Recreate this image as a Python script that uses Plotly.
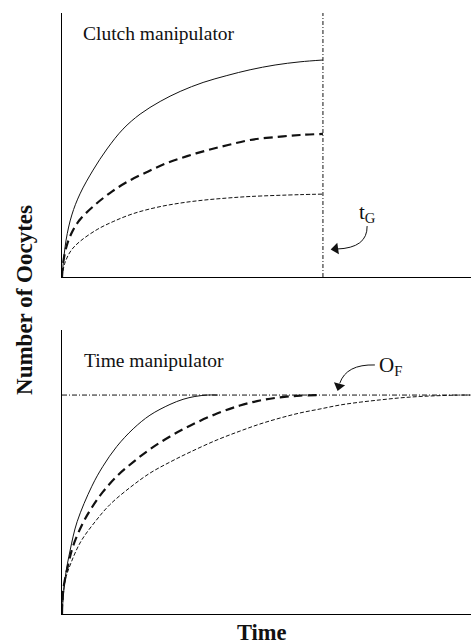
import plotly.graph_objects as go

# ---------------- data ----------------
# Top panel: Clutch manipulator (time axis 0-10, oocytes 0-10)
clutch_solid_t = [0, 0.10, 0.24, 0.44, 0.76, 1.10, 1.49, 1.91, 2.40, 2.89, 3.45, 4.03, 4.60, 5.21, 5.82, 6.38]
clutch_solid_n = [0, 1.40, 2.35, 3.15, 4.05, 4.85, 5.60, 6.17, 6.65, 7.03, 7.37, 7.63, 7.85, 8.03, 8.15, 8.22]

clutch_bold_t = [0, 0.03, 0.10, 0.22, 0.42, 0.76, 1.17, 1.59, 2.08, 2.57, 3.06, 3.55, 4.06, 4.60, 5.21, 5.82, 6.38]
clutch_bold_n = [0, 0.55, 1.10, 1.62, 2.14, 2.67, 3.18, 3.60, 3.98, 4.32, 4.58, 4.80, 5.00, 5.19, 5.30, 5.38, 5.42]

clutch_thin_t = [0, 0.07, 0.22, 0.44, 0.86, 1.25, 1.74, 2.32, 2.89, 3.45, 4.03, 4.60, 5.82, 6.38]
clutch_thin_n = [0, 0.53, 1.00, 1.35, 1.80, 2.10, 2.40, 2.64, 2.80, 2.91, 2.99, 3.05, 3.12, 3.14]

t_G = 6.38          # clutch-manipulator stopping time
top_n_max = 10

# Bottom panel: Time manipulator
time_solid_t = [0, 0.08, 0.20, 0.37, 0.73, 1.00, 1.34, 1.74, 2.15, 2.64, 2.96, 3.25, 3.55, 3.81]
time_solid_n = [0, 1.30, 2.25, 3.25, 4.50, 5.20, 5.90, 6.52, 7.00, 7.38, 7.56, 7.66, 7.71, 7.71]

time_bold_t = [0, 0.03, 0.15, 0.27, 0.51, 0.73, 1.00, 1.34, 1.74, 2.15, 2.64, 3.13, 3.79, 4.35, 4.84, 5.33, 5.82, 6.26]
time_bold_n = [0, 0.85, 1.73, 2.39, 3.20, 3.75, 4.30, 4.85, 5.35, 5.80, 6.25, 6.63, 7.06, 7.34, 7.52, 7.63, 7.69, 7.71]

time_thin_t = [0, 0.07, 0.22, 0.46, 0.81, 1.17, 1.66, 2.15, 2.64, 3.13, 3.79, 4.35, 4.84, 5.33, 5.82, 6.31, 6.80, 7.29, 7.78, 8.26, 8.75, 9.24, 9.73, 10]
time_thin_n = [0, 1.13, 1.80, 2.55, 3.25, 3.85, 4.45, 4.96, 5.35, 5.70, 6.13, 6.44, 6.69, 6.90, 7.08, 7.22, 7.36, 7.46, 7.54, 7.61, 7.66, 7.69, 7.71, 7.71]

O_F = 7.71          # final oocyte number
t_range = [0, 10]
n_range = [0, 10]

# ---------------- styles ----------------
SERIF = "Liberation Serif, Times New Roman, serif"
INK = "#111111"

fig = go.Figure()

def add(t, n, xa, ya, width, dash):
    fig.add_trace(go.Scatter(
        x=t, y=n, xaxis=xa, yaxis=ya, mode="lines",
        line=dict(color=INK, width=width, dash=dash, shape="spline", smoothing=1.0),
        showlegend=False, hoverinfo="skip"))

# top panel
add(clutch_solid_t, clutch_solid_n, "x", "y", 1.0, "solid")
add(clutch_bold_t, clutch_bold_n, "x", "y", 2.2, "9px,5px")
add(clutch_thin_t, clutch_thin_n, "x", "y", 1.0, "4px,2px")
fig.add_trace(go.Scatter(x=[t_G, t_G], y=[0, top_n_max], xaxis="x", yaxis="y", mode="lines",
                         line=dict(color=INK, width=1.0, dash="4px,2px,1px,2px"),
                         showlegend=False, hoverinfo="skip"))

# bottom panel
fig.add_trace(go.Scatter(x=t_range, y=[O_F, O_F], xaxis="x2", yaxis="y2", mode="lines",
                         line=dict(color=INK, width=1.0, dash="5px,2px,1px,2px"),
                         showlegend=False, hoverinfo="skip"))
add(time_thin_t, time_thin_n, "x2", "y2", 1.0, "4px,2px")
add(time_bold_t, time_bold_n, "x2", "y2", 2.2, "9px,5px")
add(time_solid_t, time_solid_n, "x2", "y2", 1.0, "solid")

# arrow heads for the curved label arrows
fig.add_trace(go.Scatter(x=[6.69], y=[1.07], xaxis="x", yaxis="y", mode="markers",
                         marker=dict(symbol="triangle-left", size=10, color=INK, angle=-8),
                         showlegend=False, hoverinfo="skip"))
fig.add_trace(go.Scatter(x=[6.77], y=[8.02], xaxis="x2", yaxis="y2", mode="markers",
                         marker=dict(symbol="triangle-down", size=10, color=INK, angle=15),
                         showlegend=False, hoverinfo="skip"))

axis_common = dict(showline=True, linecolor="#000000", linewidth=1.4, showgrid=False,
                   zeroline=False, showticklabels=False, ticks="", mirror=False, fixedrange=True)

fig.update_layout(
    width=471, height=644,
    margin=dict(l=62, r=0, t=13, b=30),
    paper_bgcolor="white", plot_bgcolor="white",
    xaxis=dict(domain=[0, 1], anchor="y", range=t_range, **axis_common),
    yaxis=dict(domain=[0.5607, 1], anchor="x", range=n_range, **axis_common),
    xaxis2=dict(domain=[0, 1], anchor="y2", range=t_range, **axis_common),
    yaxis2=dict(domain=[0, 0.4725], anchor="x2", range=n_range, **axis_common),
    font=dict(family=SERIF, color=INK),
    hovermode=False,
)

# curved arrow shafts (shape paths in data coordinates)
fig.add_shape(type="path", xref="x", yref="y",
              path="M 7.46,1.93 Q 7.47,1.10 6.72,1.06",
              line=dict(color=INK, width=1.0))
fig.add_shape(type="path", xref="x2", yref="y2",
              path="M 7.65,8.77 Q 6.95,8.80 6.79,8.12",
              line=dict(color=INK, width=1.0))

annotations = [
    dict(text="Clutch manipulator", x=0.46, y=9.24, xref="x", yref="y",
         xanchor="left", yanchor="middle", showarrow=False, font=dict(size=19.5, family=SERIF)),
    dict(text="Time manipulator", x=0.49, y=8.91, xref="x2", yref="y2",
         xanchor="left", yanchor="middle", showarrow=False, font=dict(size=19.5, family=SERIF)),
    dict(text="t<sub>G</sub>", x=7.22, y=2.42, xref="x", yref="y",
         xanchor="left", yanchor="middle", showarrow=False, font=dict(size=21, family=SERIF)),
    dict(text="O<sub>F</sub>", x=7.70, y=8.72, xref="x2", yref="y2",
         xanchor="left", yanchor="middle", showarrow=False, font=dict(size=21, family=SERIF)),
    dict(text="<b>Number of Oocytes</b>", x=-0.0905, y=0.5225, xref="paper", yref="paper",
         textangle=-90, showarrow=False, xanchor="center", yanchor="middle",
         font=dict(size=23, family=SERIF)),
    dict(text="<b>Time</b>", x=0.489, y=-0.031, xref="paper", yref="paper",
         showarrow=False, xanchor="center", yanchor="middle",
         font=dict(size=22.5, family=SERIF)),
]
fig.update_layout(annotations=annotations)

fig.write_html("out.html",
               config={"displayModeBar": False, "staticPlot": True},
               post_script="document.body.style.margin='0';document.body.style.overflow='hidden';")
